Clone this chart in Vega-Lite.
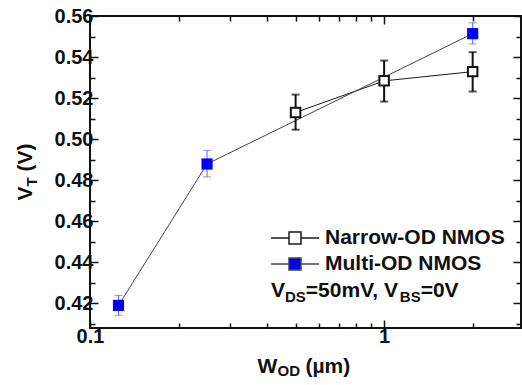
{
  "$schema": "https://vega.github.io/schema/vega-lite/v6.json",
  "width": 431,
  "height": 312,
  "autosize": "none",
  "padding": {"left": 90, "top": 16, "right": 1, "bottom": 57},
  "background": "white",
  "config": {
    "view": {"stroke": "#111111", "strokeWidth": 2},
    "font": "Liberation Sans",
    "axis": {"grid": false, "domain": false, "tickColor": "#111111", "tickWidth": 1.5, "labelFont": "Liberation Sans", "labelFontWeight": "bold", "labelFontSize": 20, "labelColor": "#111111", "labelFlush": false, "labelOverlap": false, "labelBound": false, "titleFont": "Liberation Sans", "titleFontWeight": "bold", "titleColor": "#111111"}
  },
  "data": {
    "values": [
      {"series": "Narrow-OD NMOS", "w": 0.5, "vt": 0.513, "lo": 0.5046, "hi": 0.5217},
      {"series": "Narrow-OD NMOS", "w": 1.0, "vt": 0.5284, "lo": 0.5183, "hi": 0.5383},
      {"series": "Narrow-OD NMOS", "w": 2.0, "vt": 0.5329, "lo": 0.5232, "hi": 0.5424},
      {"series": "Multi-OD NMOS", "w": 0.125, "vt": 0.419, "lo": 0.4142, "hi": 0.4239},
      {"series": "Multi-OD NMOS", "w": 0.25, "vt": 0.4879, "lo": 0.4816, "hi": 0.4945},
      {"series": "Multi-OD NMOS", "w": 2.0, "vt": 0.5514, "lo": 0.5464, "hi": 0.5567}
    ]
  },
  "resolve": {"axis": {"x": "independent", "y": "independent"}},
  "layer": [
    {
      "mark": {"type": "line", "strokeWidth": 1},
      "encoding": {
        "x": {"field": "w", "type": "quantitative", "scale": {"type": "log", "domain": [0.1, 2.92], "nice": false},
              "axis": {"orient": "bottom", "values": [0.1, 1], "format": "~g", "tickSize": -8, "labelPadding": 6, "title": null}},
        "y": {"field": "vt", "type": "quantitative", "scale": {"domain": [0.408, 0.56], "nice": false, "zero": false},
              "axis": {"orient": "left", "values": [0.42, 0.44, 0.46, 0.48, 0.5, 0.52, 0.54, 0.56], "format": ".2f", "tickSize": -8, "labelPadding": 5, "title": null}},
        "stroke": {"field": "series", "type": "nominal",
                   "scale": {"domain": ["Narrow-OD NMOS", "Multi-OD NMOS"], "range": ["#1a1a1a", "#444444"]},
                   "legend": {"orient": "none", "legendX": 180, "legendY": 209, "title": null,
                              "symbolType": "M-1,0H-0.25M0.25,0H1M-0.25,-0.25H0.25V0.25H-0.25Z",
                              "symbolSize": 2304, "symbolStrokeWidth": 1.5, "clipHeight": 26, "rowPadding": 0,
                              "labelFont": "Liberation Sans", "labelFontSize": 21, "labelFontWeight": "bold", "labelColor": "#111111", "labelOffset": 5, "labelLimit": 400,
                              "encode": {"symbols": {"update": {"fill": {"scale": "fill", "field": "value"}, "stroke": {"scale": "stroke", "field": "value"}, "opacity": {"value": 1}}}}}}
      }
    },
    {
      "transform": [{"filter": "datum.series === 'Multi-OD NMOS'"}],
      "mark": {"type": "rule", "color": "#5c5cff", "strokeWidth": 1},
      "encoding": {
        "x": {"field": "w", "type": "quantitative", "scale": {"type": "log", "domain": [0.1, 2.92], "nice": false},
              "axis": {"orient": "bottom", "values": [0.2, 0.3, 0.4, 0.5, 0.6, 0.7, 0.8, 0.9, 2], "labels": false, "tickSize": -5, "title": null}},
        "y": {"field": "lo", "type": "quantitative", "scale": {"domain": [0.408, 0.56], "nice": false, "zero": false},
              "axis": {"orient": "left", "values": [0.41, 0.43, 0.45, 0.47, 0.49, 0.51, 0.53, 0.55], "labels": false, "tickSize": -5, "title": null}},
        "y2": {"field": "hi"}
      }
    },
    {
      "transform": [{"filter": "datum.series === 'Multi-OD NMOS'"}, {"fold": ["lo", "hi"], "as": ["end", "v"]}],
      "mark": {"type": "tick", "orient": "horizontal", "color": "#5c5cff", "size": 8, "thickness": 1},
      "encoding": {
        "x": {"field": "w", "type": "quantitative", "scale": {"type": "log", "domain": [0.1, 2.92], "nice": false},
              "axis": {"orient": "top", "values": [0.1, 1], "labels": false, "tickSize": -8, "title": null}},
        "y": {"field": "v", "type": "quantitative", "scale": {"domain": [0.408, 0.56], "nice": false, "zero": false},
              "axis": {"orient": "right", "values": [0.42, 0.44, 0.46, 0.48, 0.5, 0.52, 0.54, 0.56], "labels": false, "tickSize": -8, "title": null}}
      }
    },
    {
      "transform": [{"filter": "datum.series === 'Narrow-OD NMOS'"}],
      "mark": {"type": "rule", "color": "#111111", "strokeWidth": 2},
      "encoding": {
        "x": {"field": "w", "type": "quantitative", "scale": {"type": "log", "domain": [0.1, 2.92], "nice": false},
              "axis": {"orient": "top", "values": [0.2, 0.3, 0.4, 0.5, 0.6, 0.7, 0.8, 0.9, 2], "labels": false, "tickSize": -5, "title": null}},
        "y": {"field": "lo", "type": "quantitative", "scale": {"domain": [0.408, 0.56], "nice": false, "zero": false},
              "axis": {"orient": "right", "values": [0.41, 0.43, 0.45, 0.47, 0.49, 0.51, 0.53, 0.55], "labels": false, "tickSize": -5, "title": null}},
        "y2": {"field": "hi"}
      }
    },
    {
      "transform": [{"filter": "datum.series === 'Narrow-OD NMOS'"}, {"fold": ["lo", "hi"], "as": ["end", "v"]}],
      "mark": {"type": "tick", "orient": "horizontal", "color": "#111111", "size": 8, "thickness": 2},
      "encoding": {
        "x": {"field": "w", "type": "quantitative", "scale": {"type": "log", "domain": [0.1, 2.92], "nice": false},
              "axis": {"orient": "bottom", "ticks": false, "labels": false, "title": "W", "titleX": 167, "titleY": 44, "titleAlign": "left", "titleBaseline": "alphabetic", "titleFontSize": 21}},
        "y": {"field": "v", "type": "quantitative", "scale": {"domain": [0.408, 0.56], "nice": false, "zero": false},
              "axis": {"orient": "left", "ticks": false, "labels": false, "title": "V", "titleX": -59, "titleY": 184, "titleAngle": 270, "titleAlign": "left", "titleBaseline": "alphabetic", "titleFontSize": 21}}
      }
    },
    {
      "transform": [{"filter": "datum.series === 'Multi-OD NMOS'"}],
      "mark": {"type": "point", "shape": "square", "filled": true, "size": 125, "strokeWidth": 0, "opacity": 1},
      "encoding": {
        "x": {"field": "w", "type": "quantitative", "scale": {"type": "log", "domain": [0.1, 2.92], "nice": false},
              "axis": {"orient": "bottom", "ticks": false, "labels": false, "title": "OD", "titleX": 187, "titleY": 47, "titleAlign": "left", "titleBaseline": "alphabetic", "titleFontSize": 15}},
        "y": {"field": "vt", "type": "quantitative", "scale": {"domain": [0.408, 0.56], "nice": false, "zero": false},
              "axis": {"orient": "left", "ticks": false, "labels": false, "title": "T", "titleX": -54, "titleY": 170, "titleAngle": 270, "titleAlign": "left", "titleBaseline": "alphabetic", "titleFontSize": 15}},
        "fill": {"field": "series", "type": "nominal", "scale": {"domain": ["Narrow-OD NMOS", "Multi-OD NMOS"], "range": ["#ffffff", "#0000ff"]}, "legend": null}
      }
    },
    {
      "transform": [{"filter": "datum.series === 'Narrow-OD NMOS'"}],
      "mark": {"type": "point", "shape": "square", "filled": true, "size": 90, "stroke": "#111111", "strokeWidth": 2, "opacity": 1},
      "encoding": {
        "x": {"field": "w", "type": "quantitative", "scale": {"type": "log", "domain": [0.1, 2.92], "nice": false},
              "axis": {"orient": "bottom", "ticks": false, "labels": false, "title": "(µm)", "titleX": 215, "titleY": 44, "titleAlign": "left", "titleBaseline": "alphabetic", "titleFontSize": 21}},
        "y": {"field": "vt", "type": "quantitative", "scale": {"domain": [0.408, 0.56], "nice": false, "zero": false},
              "axis": {"orient": "left", "ticks": false, "labels": false, "title": "(V)", "titleX": -59, "titleY": 155, "titleAngle": 270, "titleAlign": "left", "titleBaseline": "alphabetic", "titleFontSize": 21}},
        "fill": {"field": "series", "type": "nominal", "scale": {"domain": ["Narrow-OD NMOS", "Multi-OD NMOS"], "range": ["#ffffff", "#0000ff"]}, "legend": null}
      }
    },
    {
      "data": {"values": [{}]},
      "mark": {"type": "text", "text": "V", "font": "Liberation Sans", "fontWeight": "bold", "fontSize": 21, "align": "left", "baseline": "alphabetic", "color": "#111111", "dx": 0},
      "encoding": {
        "x": {"datum": 0.4126, "type": "quantitative", "scale": {"type": "log", "domain": [0.1, 2.92], "nice": false}, "axis": null},
        "y": {"datum": 0.4231, "type": "quantitative", "scale": {"domain": [0.408, 0.56], "nice": false, "zero": false}, "axis": null}
      }
    },
    {
      "data": {"values": [{}]},
      "mark": {"type": "text", "text": "DS", "font": "Liberation Sans", "fontWeight": "bold", "fontSize": 15, "align": "left", "baseline": "alphabetic", "color": "#111111", "dx": 14, "dy": 5},
      "encoding": {
        "x": {"datum": 0.4126, "type": "quantitative", "scale": {"type": "log", "domain": [0.1, 2.92], "nice": false}, "axis": null},
        "y": {"datum": 0.4231, "type": "quantitative", "scale": {"domain": [0.408, 0.56], "nice": false, "zero": false}, "axis": null}
      }
    },
    {
      "data": {"values": [{}]},
      "mark": {"type": "text", "text": "=50mV, V", "font": "Liberation Sans", "fontWeight": "bold", "fontSize": 21, "align": "left", "baseline": "alphabetic", "color": "#111111", "dx": 34.8},
      "encoding": {
        "x": {"datum": 0.4126, "type": "quantitative", "scale": {"type": "log", "domain": [0.1, 2.92], "nice": false}, "axis": null},
        "y": {"datum": 0.4231, "type": "quantitative", "scale": {"domain": [0.408, 0.56], "nice": false, "zero": false}, "axis": null}
      }
    },
    {
      "data": {"values": [{}]},
      "mark": {"type": "text", "text": "BS", "font": "Liberation Sans", "fontWeight": "bold", "fontSize": 15, "align": "left", "baseline": "alphabetic", "color": "#111111", "dx": 128.8, "dy": 5},
      "encoding": {
        "x": {"datum": 0.4126, "type": "quantitative", "scale": {"type": "log", "domain": [0.1, 2.92], "nice": false}, "axis": null},
        "y": {"datum": 0.4231, "type": "quantitative", "scale": {"domain": [0.408, 0.56], "nice": false, "zero": false}, "axis": null}
      }
    },
    {
      "data": {"values": [{}]},
      "mark": {"type": "text", "text": "=0V", "font": "Liberation Sans", "fontWeight": "bold", "fontSize": 21, "align": "left", "baseline": "alphabetic", "color": "#111111", "dx": 149.6},
      "encoding": {
        "x": {"datum": 0.4126, "type": "quantitative", "scale": {"type": "log", "domain": [0.1, 2.92], "nice": false}, "axis": null},
        "y": {"datum": 0.4231, "type": "quantitative", "scale": {"domain": [0.408, 0.56], "nice": false, "zero": false}, "axis": null}
      }
    }
  ]
}
